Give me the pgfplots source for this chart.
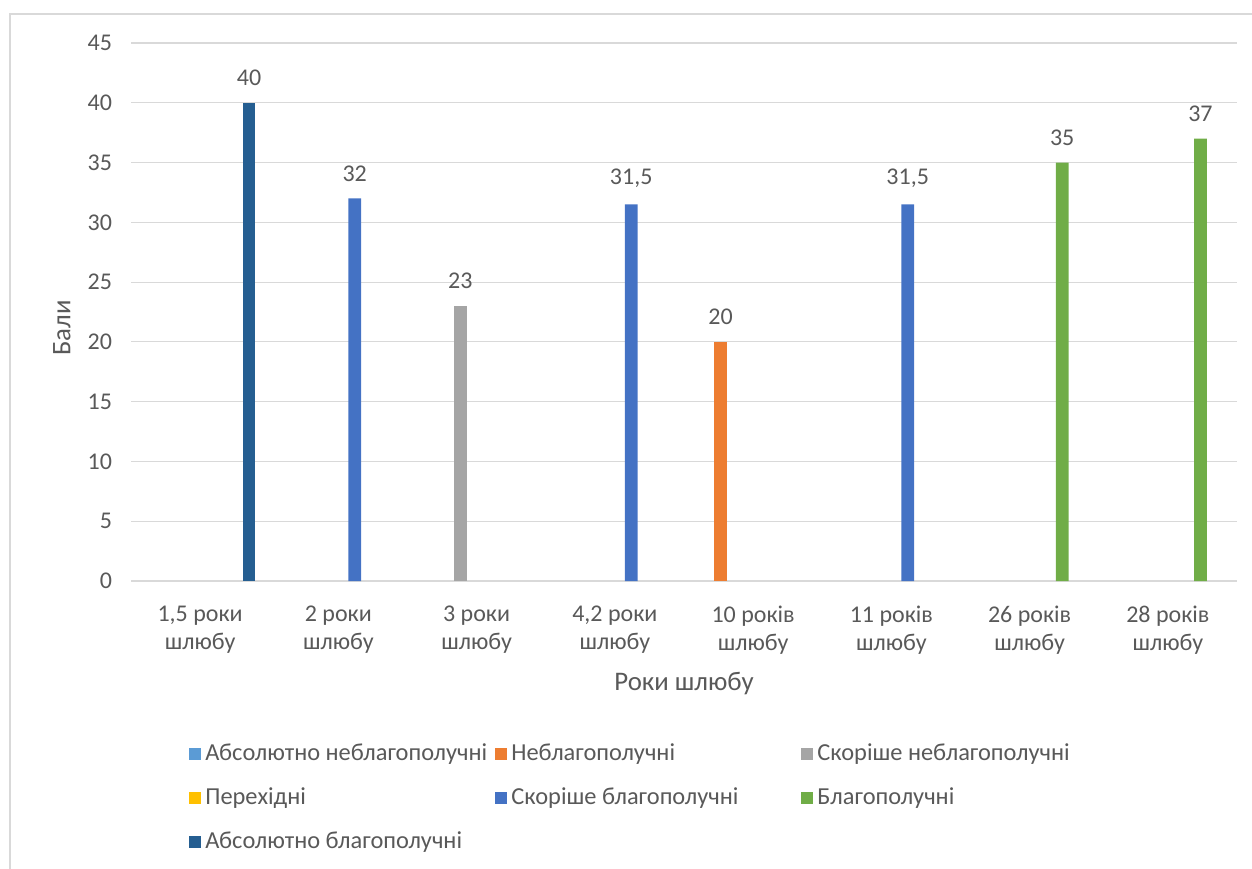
\documentclass[border=0pt]{standalone}
\usepackage{fontspec}
\setmainfont{Carlito}
\usepackage{pgfplots}
\pgfplotsset{compat=1.18}
\definecolor{txt}{HTML}{595959}
\definecolor{gridc}{HTML}{D9D9D9}
\definecolor{borderc}{HTML}{D9D9D9}
\definecolor{cA}{HTML}{5B9BD5}
\definecolor{cB}{HTML}{ED7D31}
\definecolor{cC}{HTML}{A5A5A5}
\definecolor{cD}{HTML}{FFC000}
\definecolor{cE}{HTML}{4472C4}
\definecolor{cF}{HTML}{70AD47}
\definecolor{cG}{HTML}{255E91}
\pgfplotsset{sqleg/.style={legend image code/.code={\fill[##1,draw=none] (0pt,-3pt) rectangle (6pt,3pt);}}}
\begin{document}
\begin{tikzpicture}
\useasboundingbox (0,0) rectangle (626pt,434pt);
\draw[color=borderc, line width=0.8pt] (5pt,-20pt) rectangle (660pt,427pt);
\begin{axis}[
  at={(65.5pt,143.5pt)}, anchor=south west,
  scale only axis, width=553pt, height=269pt,
  xmin=-0.5, xmax=7.5, ymin=0, ymax=45,
  ytick={0,5,...,45},
  xtick={0,...,7},
  xticklabels={{1,5 роки\\шлюбу},{2 роки\\шлюбу},{3 роки\\шлюбу},{4,2 роки\\шлюбу},{10 років\\шлюбу},{11 років\\шлюбу},{26 років\\шлюбу},{28 років\\шлюбу}},
  ymajorgrids, grid style={color=gridc, line width=0.6pt},
  axis line style={draw=none},
  major tick length=0pt,
  clip=false,
  xticklabel style={align=center, font=\fontsize{12}{14}\selectfont, color=txt, yshift=-9pt},
  yticklabel style={font=\fontsize{12}{14}\selectfont, color=txt, xshift=-6pt},
  xlabel={Роки шлюбу}, ylabel={Бали},
  xlabel style={at={(axis description cs:0.5,-0.19)}, anchor=center, font=\fontsize{13.4}{15}\selectfont, color=txt},
  ylabel style={at={(axis description cs:-0.0624,0.47)}, anchor=center, font=\fontsize{13.4}{15}\selectfont, color=txt},
  nodes near coords,
  nodes near coords style={font=\fontsize{12}{14}\selectfont, color=txt, anchor=south, yshift=5pt},
  /pgf/number format/.cd, use comma, fixed, precision=1, assume math mode=true, /pgfplots/.cd,
  legend columns=3,
  legend cell align=left,
  legend style={at={(axis description cs:0.0524,-0.295)}, anchor=north west, draw=none, fill=none,
    font=\fontsize{12.2}{14}\selectfont, text=txt, inner sep=0pt, row sep=8pt,
    /tikz/every odd column/.style={column sep=0pt},
    /tikz/every even column/.style={column sep=0pt}},
]
\addlegendimage{sqleg, fill=cA, draw=none}
\addlegendentry{\makebox[143pt][l]{Абсолютно неблагополучні}}
\addplot[ybar, bar width=6.35pt, bar shift=-16.3pt, fill=cB, draw=none, sqleg,
  nodes near coords style={xshift=-16.3pt}] coordinates {(4,20)};
\addlegendentry{\makebox[143pt][l]{Неблагополучні}}
\addplot[ybar, bar width=6.35pt, bar shift=-8.15pt, fill=cC, draw=none, sqleg,
  nodes near coords style={xshift=-8.15pt}] coordinates {(2,23)};
\addlegendentry{\makebox[143pt][l]{Скоріше неблагополучні}}
\addlegendimage{sqleg, fill=cD, draw=none}
\addlegendentry{\makebox[143pt][l]{Перехідні}}
\addplot[ybar, bar width=6.35pt, bar shift=8.15pt, fill=cE, draw=none, sqleg,
  nodes near coords style={xshift=8.15pt}] coordinates {(1,32) (3,31.5) (5,31.5)};
\addlegendentry{\makebox[143pt][l]{Скоріше благополучні}}
\addplot[ybar, bar width=6.35pt, bar shift=16.3pt, fill=cF, draw=none, sqleg,
  nodes near coords style={xshift=16.3pt}] coordinates {(6,35) (7,37)};
\addlegendentry{\makebox[143pt][l]{Благополучні}}
\addplot[ybar, bar width=6.35pt, bar shift=24.45pt, fill=cG, draw=none, sqleg,
  nodes near coords style={xshift=24.45pt}] coordinates {(0,40)};
\addlegendentry{\makebox[143pt][l]{Абсолютно благополучні}}
\end{axis}
\end{tikzpicture}
\end{document}
